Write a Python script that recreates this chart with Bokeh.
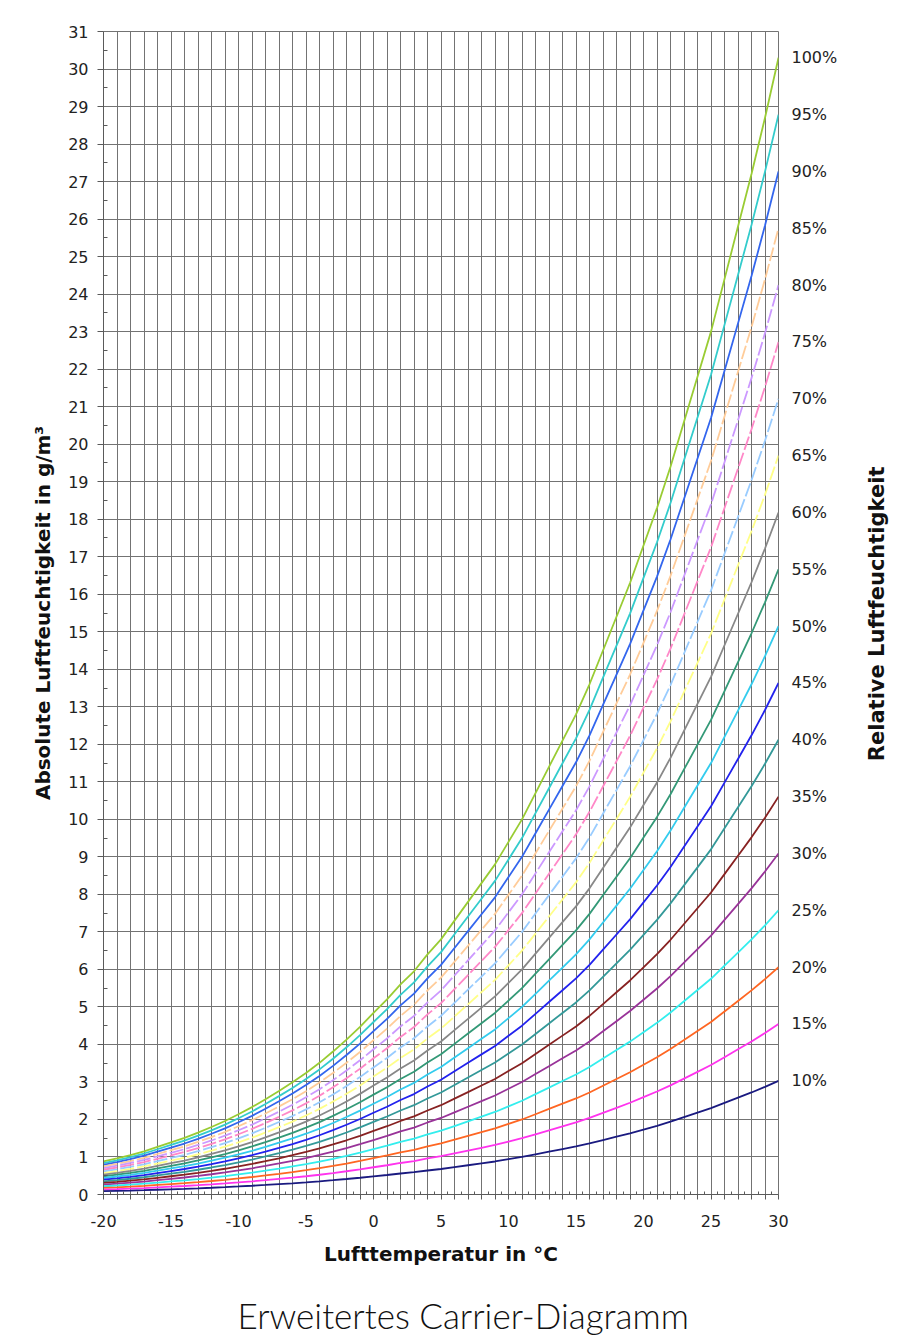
from math import pi
from bokeh.plotting import figure
from bokeh.models import LinearAxis, FixedTicker, Title, Range1d
from bokeh.embed import file_html
from bokeh.resources import INLINE

# Air temperature in °C (x axis)
temps = list(range(-20, 31))

# Saturation (100 %) absolute humidity in g/m³
sat_100 = [0.88, 0.96, 1.05, 1.15, 1.27, 1.39, 1.51, 1.65, 1.80, 1.96,
           2.14, 2.33, 2.54, 2.76, 2.99, 3.24, 3.51, 3.81, 4.13, 4.47,
           4.84, 5.20, 5.60, 5.95, 6.40, 6.80, 7.30, 7.80, 8.30, 8.80,
           9.40, 10.0, 10.7, 11.4, 12.1, 12.8, 13.6, 14.5, 15.4, 16.3,
           17.3, 18.3, 19.4, 20.6, 21.8, 23.0, 24.4, 25.8, 27.2, 28.7, 30.3]

# Relative humidity levels of the curves (%)
rh_levels = [100, 95, 90, 85, 80, 75, 70, 65, 60, 55,
             50, 45, 40, 35, 30, 25, 20, 15, 10]

curve_colors = ["#99cc33", "#33cccc", "#3366ee", "#ffcc99", "#cc99ff",
                "#ff88c8", "#99ccff", "#ffff88", "#888888", "#339977",
                "#33ccee", "#2222ee", "#339999", "#882222", "#993399",
                "#33eeee", "#ff6622", "#ff33ee", "#1a1a80"]

curve_dashes = ["solid", "solid", "solid", "14 3", "14 3",
                "14 3", "14 3", "14 3", "solid", "solid",
                "solid", "solid", "solid", "solid", "solid",
                "solid", "solid", "solid", "solid"]

# Tick labels
y_ticks = list(range(0, 32))
x_label_every = 5

FONT = "DejaVu Sans"
GRID = "#737373"
AX = "#5a5a5a"

p = figure(frame_width=675, frame_height=1163,
           x_range=Range1d(-20, 30), y_range=Range1d(0, 31),
           output_backend="svg", toolbar_location=None,
           min_border_left=103, min_border_right=127,
           min_border_top=31, min_border_bottom=140,
           background_fill_color="white", border_fill_color="white")
p.outline_line_color = GRID

# grids
p.xgrid.grid_line_color = GRID
p.ygrid.grid_line_color = GRID
p.xgrid.grid_line_width = 1
p.ygrid.grid_line_width = 1

# x axis
xa = p.xaxis[0]
xa.ticker = FixedTicker(ticks=temps, minor_ticks=[t + 0.5 for t in temps[:-1]])
xa.major_label_overrides = {t: (str(t) if t % x_label_every == 0 else "") for t in temps}
xa.major_tick_out = 5
xa.major_tick_in = 0
xa.minor_tick_in = 3
xa.minor_tick_out = 0
xa.axis_line_color = AX
xa.major_tick_line_color = AX
xa.minor_tick_line_color = AX
xa.major_label_text_font = FONT
xa.major_label_text_font_size = "16px"
xa.major_label_text_color = "#222222"
xa.major_label_standoff = 15
xa.axis_label = "Lufttemperatur in °C"
xa.axis_label_text_font = FONT
xa.axis_label_text_font_style = "bold"
xa.axis_label_text_font_size = "20px"
xa.axis_label_text_color = "#111111"
xa.axis_label_standoff = 12

# left y axis
ya = p.yaxis[0]
ya.ticker = FixedTicker(ticks=y_ticks, minor_ticks=[v + 0.5 for v in y_ticks[:-1]])
ya.major_tick_out = 6
ya.major_tick_in = 0
ya.minor_tick_in = 4
ya.minor_tick_out = 0
ya.axis_line_color = AX
ya.major_tick_line_color = AX
ya.minor_tick_line_color = AX
ya.major_label_text_font = FONT
ya.major_label_text_font_size = "16px"
ya.major_label_text_color = "#222222"
ya.major_label_standoff = 9
ya.axis_label = "Absolute Luftfeuchtigkeit in g/m³"
ya.axis_label_text_font = FONT
ya.axis_label_text_font_style = "bold"
ya.axis_label_text_font_size = "20px"
ya.axis_label_text_color = "#111111"
ya.axis_label_standoff = 10

# curves
end_values = []
for rh, col, dash in zip(rh_levels, curve_colors, curve_dashes):
    vals = [s * rh / 100.0 for s in sat_100]
    end_values.append(round(vals[-1], 4))
    p.line(temps, vals, line_color=col, line_width=1.8, line_dash=dash)

# right axis: percentage labels at the curve ends
ra = LinearAxis(ticker=FixedTicker(ticks=end_values, minor_ticks=[]),
                major_label_overrides={v: f"{rh}%" for v, rh in zip(end_values, rh_levels)})
ra.axis_line_color = None
ra.major_tick_line_color = None
ra.minor_tick_line_color = None
ra.major_tick_out = 0
ra.major_tick_in = 0
ra.major_label_standoff = 13
ra.major_label_text_font = FONT
ra.major_label_text_font_size = "16px"
ra.major_label_text_color = "#222222"
p.add_layout(ra, "right")

# outer right axis carrying the rotated title "Relative Luftfeuchtigkeit"
# (single label, rotated to read bottom-to-top, starting at its anchor)
title_anchor = 11.55
ra2 = LinearAxis(ticker=FixedTicker(ticks=[title_anchor], minor_ticks=[]),
                 major_label_overrides={title_anchor: "Relative Luftfeuchtigkeit"},
                 major_label_orientation=pi / 2)
ra2.axis_line_color = None
ra2.major_tick_line_color = None
ra2.minor_tick_line_color = None
ra2.major_tick_out = 0
ra2.major_tick_in = 0
ra2.major_label_standoff = 37
ra2.major_label_text_font = FONT
ra2.major_label_text_font_style = "bold"
ra2.major_label_text_font_size = "21px"
ra2.major_label_text_color = "#111111"
p.add_layout(ra2, "right")

bottom_title = Title(text="Erweitertes Carrier-Diagramm", align="left",
                     text_font="Lato Light", text_font_style="normal",
                     text_font_size="35px", text_color="#111111",
                     standoff=47, offset=134)
p.add_layout(bottom_title, "below")

open("out.html", "w").write(file_html(p, INLINE))
